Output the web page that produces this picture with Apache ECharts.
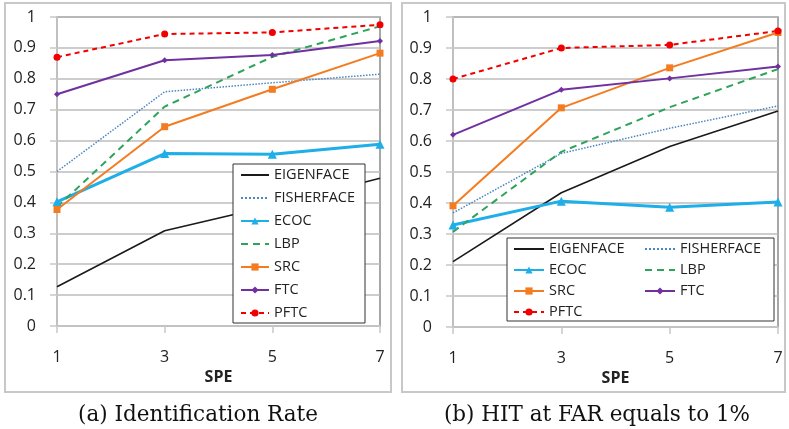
<!DOCTYPE html>
<html>
<head>
<meta charset="utf-8">
<script src="https://cdn.jsdelivr.net/npm/echarts@6/dist/echarts.min.js"></script>
<style>
html,body{margin:0;padding:0;background:#fff;}
#c{width:789px;height:429px;}
</style>
</head>
<body>
<div id="c"></div>
<script>
// ---- data ----
const categories = ['1', '3', '5', '7'];
const seriesNames = ['EIGENFACE', 'FISHERFACE', 'ECOC', 'LBP', 'SRC', 'FTC', 'PFTC'];
const yTicksMax = 1;

// (a) Identification Rate
const idEigenface  = [0.127, 0.308, 0.39, 0.478];
const idFisherface = [0.50, 0.758, 0.787, 0.815];
const idEcoc       = [0.402, 0.558, 0.556, 0.588];
const idLbp        = [0.385, 0.71, 0.871, 0.97];
const idSrc        = [0.377, 0.645, 0.766, 0.883];
const idFtc        = [0.75, 0.86, 0.877, 0.922];
const idPftc       = [0.87, 0.945, 0.95, 0.975];

// (b) HIT at FAR equals to 1%
const hitEigenface  = [0.211, 0.433, 0.582, 0.697];
const hitFisherface = [0.368, 0.56, 0.641, 0.713];
const hitEcoc       = [0.329, 0.406, 0.386, 0.403];
const hitLbp        = [0.307, 0.565, 0.709, 0.832];
const hitSrc        = [0.391, 0.707, 0.836, 0.95];
const hitFtc        = [0.62, 0.765, 0.802, 0.84];
const hitPftc       = [0.80, 0.90, 0.91, 0.955];

const captionA = '(a) Identification Rate';
const captionB = '(b) HIT at FAR equals to 1%';
const axisName = 'SPE';

// ---- styles ----
const styles = {
  EIGENFACE:  {color: '#1a1a1a', width: 1.6, type: 'solid', symbol: 'none', size: 0},
  FISHERFACE: {color: '#4a86c0', width: 1.5, type: 'dotted', symbol: 'none', size: 0},
  ECOC:       {color: '#1eaee8', width: 3, type: 'solid', symbol: 'triangle', size: 9},
  LBP:        {color: '#2ea35a', width: 2, type: [7, 5], symbol: 'none', size: 0},
  SRC:        {color: '#f47c20', width: 2, type: 'solid', symbol: 'rect', size: 7},
  FTC:        {color: '#7030a0', width: 2, type: 'solid', symbol: 'diamond', size: 6},
  PFTC:       {color: '#f00000', width: 2, type: [5, 4], symbol: 'circle', size: 7}
};

const dataA = {EIGENFACE: idEigenface, FISHERFACE: idFisherface, ECOC: idEcoc, LBP: idLbp, SRC: idSrc, FTC: idFtc, PFTC: idPftc};
const dataB = {EIGENFACE: hitEigenface, FISHERFACE: hitFisherface, ECOC: hitEcoc, LBP: hitLbp, SRC: hitSrc, FTC: hitFtc, PFTC: hitPftc};

function mkSeries(data, idx) {
  return seriesNames.map(n => {
    const s = styles[n];
    return {
      name: n, type: 'line', xAxisIndex: idx, yAxisIndex: idx,
      data: data[n],
      symbol: s.symbol, symbolSize: s.size, showSymbol: s.symbol !== 'none',
      lineStyle: {color: s.color, width: s.width, type: s.type},
      itemStyle: {color: s.color},
      emphasis: {disabled: true},
      animation: false
    };
  });
}

const legendData = seriesNames.map(n => styles[n].symbol === 'none'
  ? {name: n, itemStyle: {opacity: 0}}
  : {name: n});

const font = 'Open Sans';
function mkX(idx) {
  return {
    type: 'category', gridIndex: idx, data: categories, boundaryGap: false,
    name: axisName, nameLocation: 'middle', nameGap: 43,
    nameTextStyle: {fontFamily: font, fontSize: 16, fontWeight: 'bold', color: '#222'},
    axisLine: {lineStyle: {color: '#c8c8c8', width: 1.5}},
    axisTick: {show: true, length: 7, alignWithLabel: true, lineStyle: {color: '#c8c8c8', width: 1.5}},
    axisLabel: {fontFamily: font, fontSize: 16, color: '#222', margin: 23},
    splitLine: {show: false}
  };
}
function mkY(idx) {
  return {
    type: 'value', gridIndex: idx, min: 0, max: yTicksMax, interval: 0.1,
    axisLine: {show: true, lineStyle: {color: '#c8c8c8', width: 1.5}},
    axisTick: {show: true, length: 7, lineStyle: {color: '#c8c8c8', width: 1.5}},
    axisLabel: {fontFamily: font, fontSize: 16, color: '#222', margin: 21},
    splitLine: {lineStyle: {color: '#bdbdbd', width: 1.5}}
  };
}

const chart = echarts.init(document.getElementById('c'), null, {renderer: 'canvas'});
chart.setOption({
  animation: false,
  backgroundColor: '#fff',
  grid: [
    {left: 57, top: 17, width: 323, height: 309, show: true, borderColor: '#8a8a8a', borderWidth: 1.5, backgroundColor: 'transparent'},
    {left: 453, top: 17, width: 325, height: 310, show: true, borderColor: '#8a8a8a', borderWidth: 1.5, backgroundColor: 'transparent'}
  ],
  xAxis: [mkX(0), mkX(1)],
  yAxis: [mkY(0), mkY(1)],
  legend: [
    {
      data: legendData, orient: 'vertical', left: 233, top: 164,
      itemWidth: 28, itemHeight: 9, itemGap: 5,
      padding: [2, 7, 1, 7],
      backgroundColor: '#fff', borderColor: '#333', borderWidth: 1,
      textStyle: {fontFamily: font, fontSize: 14.5, color: '#222', lineHeight: 18, width: 84},
      selectedMode: false
    },
    {
      data: legendData, orient: 'horizontal', left: 507, top: 238, width: 262,
      itemWidth: 30, itemHeight: 9, itemGap: 5,
      padding: [3, 4, 1, 6],
      backgroundColor: '#fff', borderColor: '#333', borderWidth: 1,
      textStyle: {fontFamily: font, fontSize: 14.5, color: '#222', lineHeight: 16, width: 90},
      selectedMode: false
    }
  ],
  series: mkSeries(dataA, 0).concat(mkSeries(dataB, 1)),
  graphic: [
    {type: 'rect', shape: {x: 5, y: 3, width: 386, height: 389}, style: {fill: 'none', stroke: '#c8c8c8', lineWidth: 2}, z: -1, silent: true},
    {type: 'rect', shape: {x: 402, y: 3, width: 383, height: 389}, style: {fill: 'none', stroke: '#c8c8c8', lineWidth: 2}, z: -1, silent: true},
    {type: 'text', x: 198, y: 415, style: {text: captionA, font: '21.5px "DejaVu Serif"', fill: '#111', textAlign: 'center', textVerticalAlign: 'middle'}, silent: true},
    {type: 'text', x: 597, y: 415, style: {text: captionB, font: '21.5px "DejaVu Serif"', fill: '#111', textAlign: 'center', textVerticalAlign: 'middle'}, silent: true}
  ]
});
</script>
</body>
</html>
